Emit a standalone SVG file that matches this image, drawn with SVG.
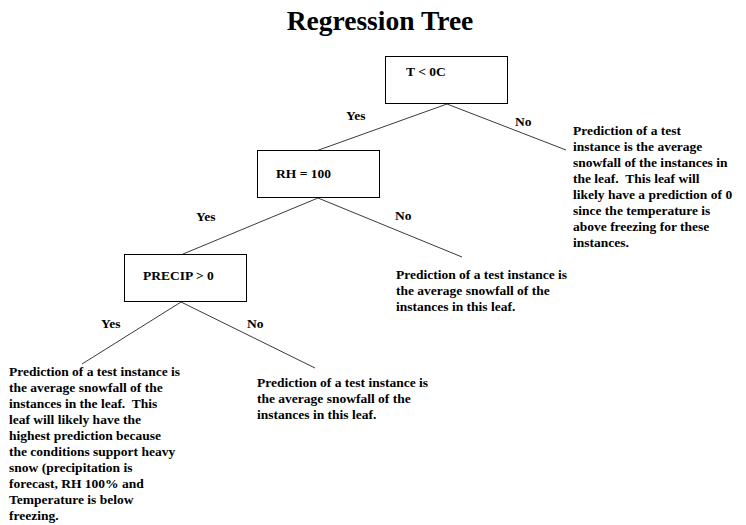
<svg xmlns="http://www.w3.org/2000/svg" width="746" height="525" viewBox="0 0 746 525">
<style>
text{font-family:"Liberation Serif","Times New Roman",serif;font-weight:bold;fill:#000;white-space:pre}
.t{font-size:13.5px}
.title{font-size:27.5px}
.box{fill:#fff;stroke:#000;stroke-width:1}
.edge{stroke:#3a3a3a;stroke-width:1;fill:none}
</style>
<rect width="746" height="525" fill="#fff"/>
<text class="title" x="380" y="30" text-anchor="middle">Regression Tree</text>
<g id="connectors">
<line class="edge" x1="447" y1="104" x2="316" y2="151"/>
<line class="edge" x1="447" y1="104" x2="566" y2="150"/>
<line class="edge" x1="318" y1="198" x2="183" y2="254"/>
<line class="edge" x1="318" y1="198" x2="462" y2="257"/>
<line class="edge" x1="181" y1="302" x2="82" y2="364"/>
<line class="edge" x1="181" y1="302" x2="315" y2="368"/>
<text class="t" x="346" y="120">Yes</text>
<text class="t" x="515" y="126">No</text>
<text class="t" x="196" y="221">Yes</text>
<text class="t" x="395" y="220">No</text>
<text class="t" x="101" y="328">Yes</text>
<text class="t" x="247" y="328">No</text>
</g>
<g id="node-t">
<rect class="box" x="385.5" y="56.5" width="122" height="47"/>
<text class="t" x="406" y="76">T &lt; 0C</text>
</g>
<g id="node-rh">
<rect class="box" x="257.5" y="150.5" width="122" height="47"/>
<text class="t" x="276" y="178">RH = 100</text>
</g>
<g id="node-precip">
<rect class="box" x="124.5" y="254.5" width="122" height="47"/>
<text class="t" x="143" y="280">PRECIP &gt; 0</text>
</g>
<g id="leaf-no-t">
<text class="t" x="573" y="135">Prediction of a test</text>
<text class="t" x="573" y="151">instance is the average</text>
<text class="t" x="573" y="167">snowfall of the instances in</text>
<text class="t" x="573" y="183" xml:space="preserve">the leaf.  This leaf will</text>
<text class="t" x="573" y="199">likely have a prediction of 0</text>
<text class="t" x="573" y="215">since the temperature is</text>
<text class="t" x="573" y="231">above freezing for these</text>
<text class="t" x="573" y="247">instances.</text>
</g>
<g id="leaf-no-rh">
<text class="t" x="396" y="279">Prediction of a test instance is</text>
<text class="t" x="396" y="295">the average snowfall of the</text>
<text class="t" x="396" y="311">instances in this leaf.</text>
</g>
<g id="leaf-no-precip">
<text class="t" x="257" y="387">Prediction of a test instance is</text>
<text class="t" x="257" y="403">the average snowfall of the</text>
<text class="t" x="257" y="419">instances in this leaf.</text>
</g>
<g id="leaf-yes-precip">
<text class="t" x="9" y="376">Prediction of a test instance is</text>
<text class="t" x="9" y="392">the average snowfall of the</text>
<text class="t" x="9" y="408" xml:space="preserve">instances in the leaf.  This</text>
<text class="t" x="9" y="424">leaf will likely have the</text>
<text class="t" x="9" y="440">highest prediction because</text>
<text class="t" x="9" y="456">the conditions support heavy</text>
<text class="t" x="9" y="472">snow (precipitation is</text>
<text class="t" x="9" y="488">forecast, RH 100% and</text>
<text class="t" x="9" y="504">Temperature is below</text>
<text class="t" x="9" y="520">freezing.</text>
</g>
</svg>
